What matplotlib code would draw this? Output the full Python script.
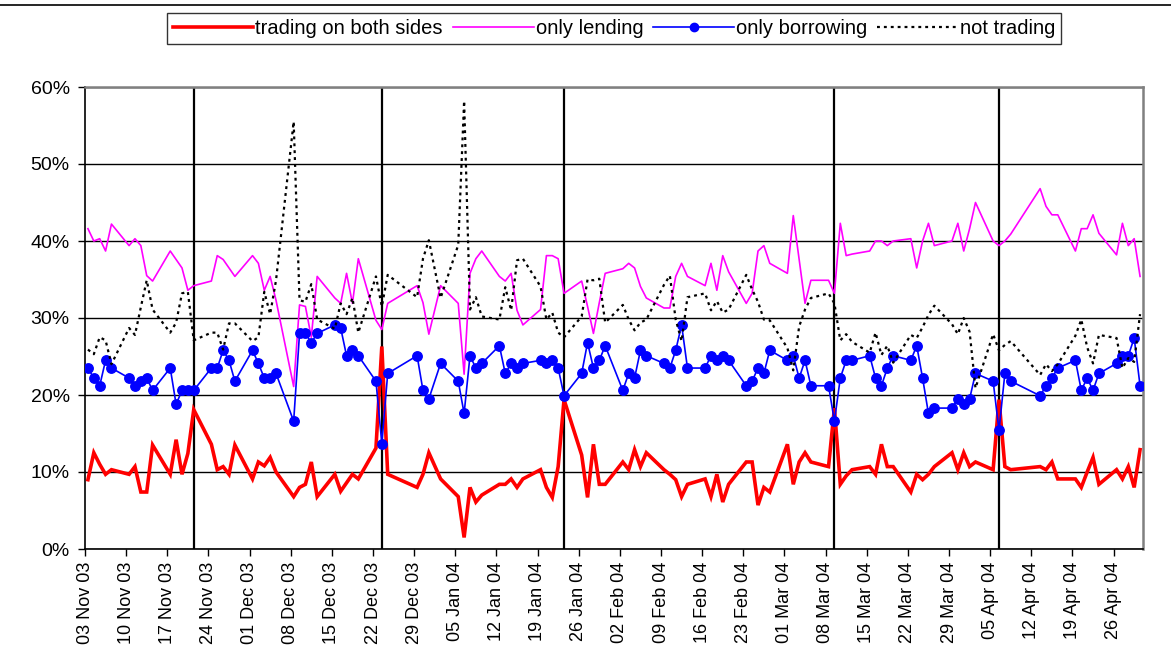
import matplotlib
matplotlib.use("Agg")
import matplotlib.pyplot as plt
import matplotlib.dates as mdates
from matplotlib.ticker import FuncFormatter, MultipleLocator
from matplotlib.lines import Line2D
import pandas as pd

plt.rcParams['font.family'] = ['Liberation Sans', 'DejaVu Sans']

# ---------------- data (percent) ----------------
dates = [
    "2003-11-03", "2003-11-04", "2003-11-05", "2003-11-06", "2003-11-07",
    "2003-11-10", "2003-11-11", "2003-11-12", "2003-11-13", "2003-11-14",
    "2003-11-17", "2003-11-18", "2003-11-19", "2003-11-20", "2003-11-21",
    "2003-11-24", "2003-11-25", "2003-11-26", "2003-11-27", "2003-11-28",
    "2003-12-01", "2003-12-02", "2003-12-03", "2003-12-04", "2003-12-05",
    "2003-12-08", "2003-12-09", "2003-12-10", "2003-12-11", "2003-12-12",
    "2003-12-15", "2003-12-16", "2003-12-17", "2003-12-18", "2003-12-19",
    "2003-12-22", "2003-12-23", "2003-12-24",
    "2003-12-29", "2003-12-30", "2003-12-31", "2004-01-02",
    "2004-01-05", "2004-01-06", "2004-01-07", "2004-01-08", "2004-01-09",
    "2004-01-12", "2004-01-13", "2004-01-14", "2004-01-15", "2004-01-16",
    "2004-01-19", "2004-01-20", "2004-01-21", "2004-01-22", "2004-01-23",
    "2004-01-26", "2004-01-27", "2004-01-28", "2004-01-29", "2004-01-30",
    "2004-02-02", "2004-02-03", "2004-02-04", "2004-02-05", "2004-02-06",
    "2004-02-09", "2004-02-10", "2004-02-11", "2004-02-12", "2004-02-13",
    "2004-02-16", "2004-02-17", "2004-02-18", "2004-02-19", "2004-02-20",
    "2004-02-23", "2004-02-24", "2004-02-25", "2004-02-26", "2004-02-27",
    "2004-03-01", "2004-03-02", "2004-03-03", "2004-03-04", "2004-03-05",
    "2004-03-08", "2004-03-09", "2004-03-10", "2004-03-11", "2004-03-12",
    "2004-03-15", "2004-03-16", "2004-03-17", "2004-03-18", "2004-03-19",
    "2004-03-22", "2004-03-23", "2004-03-24", "2004-03-25", "2004-03-26",
    "2004-03-29", "2004-03-30", "2004-03-31", "2004-04-01", "2004-04-02",
    "2004-04-05", "2004-04-06", "2004-04-07", "2004-04-08",
    "2004-04-13", "2004-04-14", "2004-04-15", "2004-04-16",
    "2004-04-19", "2004-04-20", "2004-04-21", "2004-04-22", "2004-04-23",
    "2004-04-26", "2004-04-27", "2004-04-28", "2004-04-29", "2004-04-30",
]

both_sides = [
    9.0, 12.5, 11.0, 9.7, 10.3,
    9.7, 10.7, 7.4, 7.4, 13.5,
    9.7, 14.2, 9.7, 12.4, 18.1,
    13.6, 10.3, 10.7, 9.7, 13.5,
    9.1, 11.3, 10.8, 11.9, 10.0,
    6.8, 8.0, 8.4, 11.3, 6.8,
    9.7, 7.5, 8.6, 9.7, 9.1,
    13.1, 26.3, 9.7,
    8.0, 9.7, 12.5, 9.1,
    6.8, 1.5, 8.0, 6.1, 7.0,
    8.4, 8.4, 9.1, 8.0, 9.1,
    10.3, 8.0, 6.7, 10.7, 19.4,
    12.2, 6.7, 13.6, 8.4, 8.4,
    11.3, 10.3, 12.9, 10.7, 12.5,
    10.3, 9.7, 9.0, 6.8, 8.4,
    9.1, 6.8, 9.7, 6.1, 8.4,
    11.3, 11.3, 5.7, 8.0, 7.4,
    13.6, 8.4, 11.3, 12.5, 11.3,
    10.7, 18.3, 8.4, 9.5, 10.3,
    10.7, 9.7, 13.6, 10.7, 10.7,
    7.4, 9.7, 9.0, 9.7, 10.7,
    12.5, 10.3, 12.5, 10.7, 11.3,
    10.3, 19.4, 10.7, 10.3,
    10.7, 10.3, 11.3, 9.1,
    9.1, 8.0, 10.0, 11.9, 8.4,
    10.3, 9.1, 10.7, 8.0, 12.9,
]

only_lending = [
    41.6, 40.0, 40.3, 38.7, 42.2,
    39.4, 40.3, 39.4, 35.5, 34.8,
    38.7, 37.6, 36.5, 33.6, 34.2,
    34.8, 38.1, 37.6, 36.5, 35.4,
    38.1, 37.1, 33.6, 35.4, 32.3,
    21.1, 31.7, 31.5, 27.5, 35.4,
    32.6, 31.9, 35.8, 31.9, 37.7,
    29.7, 28.5, 31.9,
    34.2, 32.0, 27.9, 34.2,
    31.9, 22.7, 35.8, 37.7, 38.7,
    35.4, 34.8, 35.8, 31.0, 29.1,
    31.1, 38.1, 38.1, 37.7, 33.2,
    34.8, 31.5, 28.0, 32.0, 35.8,
    36.4, 37.1, 36.5, 34.1, 32.6,
    31.3, 31.3, 35.4, 37.1, 35.4,
    34.2, 37.1, 33.6, 38.1, 36.0,
    31.9, 33.2, 38.7, 39.4, 37.1,
    35.8, 43.3, 37.6, 31.9, 34.9,
    34.9, 33.2, 42.3, 38.1, 38.3,
    38.7, 40.0, 40.0, 39.4, 40.0,
    40.3, 36.5, 40.0, 42.3, 39.4,
    40.0, 42.3, 38.7, 41.6, 45.0,
    40.0, 39.4, 40.0, 40.9,
    46.8, 44.5, 43.4, 43.4,
    38.7, 41.6, 41.6, 43.4, 41.0,
    38.2, 42.3, 39.4, 40.3, 35.4,
]

only_borrowing = [
    23.5, 22.2, 21.2, 24.5, 23.5,
    22.2, 21.2, 21.8, 22.2, 20.6,
    23.5, 18.8, 20.6, 20.6, 20.6,
    23.5, 23.5, 25.8, 24.5, 21.8,
    25.8, 24.1, 22.2, 22.2, 22.8,
    16.6, 28.0, 28.0, 26.8, 28.0,
    29.1, 28.7, 25.1, 25.8, 25.1,
    21.8, 13.7, 22.8,
    25.1, 20.6, 19.5, 24.1,
    21.8, 17.6, 25.1, 23.5, 24.1,
    26.4, 22.8, 24.1, 23.5, 24.1,
    24.5, 24.1, 24.5, 23.5, 19.9,
    22.8, 26.8, 23.5, 24.5, 26.4,
    20.6, 22.8, 22.2, 25.8, 25.1,
    24.1, 23.5, 25.8, 29.1, 23.5,
    23.5, 25.1, 24.5, 25.1, 24.5,
    21.2, 21.8, 23.5, 22.8, 25.8,
    24.5, 25.1, 22.2, 24.5, 21.2,
    21.2, 16.6, 22.2, 24.5, 24.5,
    25.1, 22.2, 21.2, 23.5, 25.1,
    24.5, 26.4, 22.2, 17.6, 18.3,
    18.3, 19.5, 18.8, 19.5, 22.8,
    21.8, 15.4, 22.8, 21.8,
    19.9, 21.2, 22.2, 23.5,
    24.5, 20.6, 22.2, 20.6, 22.8,
    24.1, 25.1, 25.1, 27.4, 21.2,
]

not_trading = [
    25.9, 25.3, 27.5, 27.1, 24.0,
    28.7, 27.8, 31.4, 34.9, 31.1,
    28.1, 29.4, 33.2, 33.4, 27.1,
    28.1, 28.1, 25.9, 29.3, 29.3,
    27.0, 27.5, 33.4, 30.5, 34.9,
    55.5, 32.3, 32.1, 34.4, 29.8,
    28.6, 31.9, 30.5, 32.6, 28.1,
    35.4, 31.5, 35.6,
    32.7, 37.7, 40.1, 32.6,
    39.5, 58.2, 31.1, 32.7, 30.2,
    29.8, 34.0, 31.0, 37.5, 37.7,
    34.1, 29.8, 30.7, 28.1, 27.5,
    30.2, 35.0, 34.9, 35.1, 29.4,
    31.7, 29.8, 28.4, 29.4, 29.8,
    34.3, 35.5, 29.8, 27.0, 32.7,
    33.2, 31.0, 32.2, 30.7, 31.1,
    35.6, 33.7, 32.1, 29.8, 29.7,
    26.1, 23.2, 28.9, 31.1, 32.6,
    33.2, 31.9, 27.1, 27.9, 26.9,
    25.5, 28.1, 25.2, 26.4, 24.2,
    27.8, 27.4, 28.8, 30.4, 31.6,
    29.2, 27.9, 30.0, 28.2, 20.9,
    27.9, 25.8, 26.5, 27.0,
    22.6, 24.0, 23.1, 24.0,
    27.7, 29.8, 26.2, 24.1, 27.8,
    27.4, 23.5, 24.8, 24.3, 30.5,
]

# ends of reserve maintenance periods (vertical markers)
period_ends = ["2003-11-21", "2003-12-23", "2004-01-23", "2004-03-09", "2004-04-06"]

tick_dates = [
    "2003-11-03", "2003-11-10", "2003-11-17", "2003-11-24", "2003-12-01",
    "2003-12-08", "2003-12-15", "2003-12-22", "2003-12-29", "2004-01-05",
    "2004-01-12", "2004-01-19", "2004-01-26", "2004-02-02", "2004-02-09",
    "2004-02-16", "2004-02-23", "2004-03-01", "2004-03-08", "2004-03-15",
    "2004-03-22", "2004-03-29", "2004-04-05", "2004-04-12", "2004-04-19",
    "2004-04-26",
]

series_labels = ["trading on both sides", "only lending", "only borrowing", "not trading"]

# ---------------- figure ----------------
W, H = 1171, 662
fig = plt.figure(figsize=(W / 100, H / 100), dpi=100)
L, R, T, B = 85, 1143, 87, 549
ax = fig.add_axes([L / W, 1 - B / H, (R - L) / W, (B - T) / H])

half_day = pd.Timedelta(hours=12)
x = pd.to_datetime(dates) + half_day

# gridlines
ax.set_ylim(0, 60)
ax.yaxis.set_major_locator(MultipleLocator(10))
ax.yaxis.set_major_formatter(FuncFormatter(lambda v, p: f"{v:.0f}%"))
ax.grid(axis='y', color='black', linewidth=1.0, zorder=0)
ax.set_axisbelow(True)

# vertical period markers
for d in period_ends:
    ax.axvline(pd.Timestamp(d) + half_day, color='black', linewidth=1.6, zorder=1)

ax.plot(x, both_sides, color='#FF0000', linewidth=2.6, zorder=3, solid_joinstyle='miter')
ax.plot(x, only_lending, color='#FF00FF', linewidth=1.2, zorder=4)
ax.plot(x, only_borrowing, color='#0000FF', linewidth=1.2, marker='o', markersize=6.8,
        markerfacecolor='#0000FF', markeredgecolor='#0000FF', zorder=5)
ax.plot(x, not_trading, color='black', linewidth=1.6, linestyle=(0, (1.3, 1.8)), zorder=6)

ax.set_xlim(pd.Timestamp("2003-11-03"), pd.Timestamp("2004-05-01"))
ax.set_xticks(pd.to_datetime(tick_dates))
ax.xaxis.set_major_formatter(mdates.DateFormatter("%d %b %y"))
for lbl in ax.get_xticklabels():
    lbl.set_rotation(90)
ax.tick_params(axis='x', labelsize=13, length=5, width=1, direction='out', pad=4)
ax.tick_params(axis='y', labelsize=14, length=5, width=1, direction='out', pad=6)

for s in ['left', 'bottom']:
    ax.spines[s].set_color('black')
    ax.spines[s].set_linewidth(1.2)
for s in ['top', 'right']:
    ax.spines[s].set_color('#808080')
    ax.spines[s].set_linewidth(1.8)

handles = [
    Line2D([], [], color='#FF0000', linewidth=2.6),
    Line2D([], [], color='#FF00FF', linewidth=1.2),
    Line2D([], [], color='#0000FF', linewidth=1.2, marker='o', markersize=6),
    Line2D([], [], color='black', linewidth=1.6, linestyle=(0, (1.3, 1.8))),
]
leg = fig.legend(handles, series_labels, loc='center', ncol=4,
                 bbox_to_anchor=(614 / W, 1 - 28.5 / H), fontsize=14.5,
                 frameon=True, fancybox=False, edgecolor='black',
                 handlelength=4.0, handletextpad=0.1, columnspacing=0.5,
                 borderpad=0.3, borderaxespad=0)
leg.get_frame().set_linewidth(1.0)

# outer chart-area border line at the top of the picture
fig.add_artist(Line2D([0, 1], [1 - 5 / H, 1 - 5 / H], transform=fig.transFigure,
                      color='black', linewidth=1.2))

fig.savefig("out.png", dpi=100, facecolor='white')
